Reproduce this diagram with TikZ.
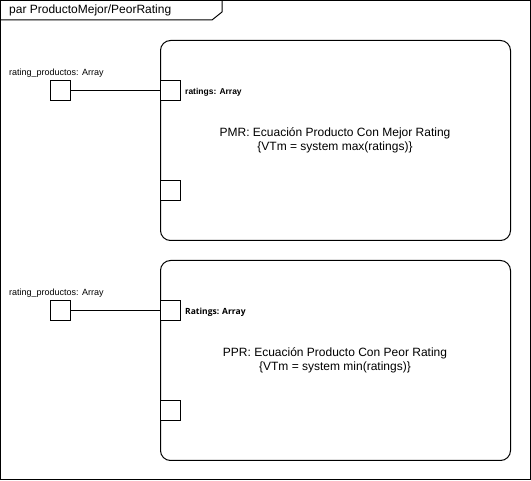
\documentclass[tikz,border=0pt]{standalone}
\usepackage{fontspec}
\setmainfont{Liberation Sans}
\newfontfamily\opensans{Open Sans}
\begin{document}
\begin{tikzpicture}[x=1pt,y=-1pt,
  frame/.style={draw=black,line width=1pt},
  blockbox/.style={draw=black,line width=1pt,rounded corners=10pt},
  portbox/.style={draw=black,line width=1pt,fill=white,minimum width=20pt,minimum height=20pt,inner sep=0pt},
  smalllabel/.style={font=\fontsize{9}{10}\selectfont,inner sep=0pt,anchor=west},
  portlabel/.style={font=\fontsize{8.5}{10}\selectfont\bfseries,inner sep=0pt,anchor=west},
  maintext/.style={font=\fontsize{12}{14}\selectfont,align=center,inner sep=0pt},
  conn/.style={draw=black,line width=1pt}]
\useasboundingbox (0,0) rectangle (531,481);
% outer frame
\draw[frame] (0.5,0.5) rectangle (530,480);
\draw[frame] (0.5,20) -- (212,20) -- (222,12) -- (222,0.5);
\node[anchor=west,inner sep=0pt,font=\fontsize{12}{14}\selectfont] (title) at (9,10.5) {par ProductoMejor/PeorRating};
% block 1
\draw[blockbox] (160.5,40.5) rectangle (510.5,240.5);
\node[portbox] (p1in) at (170.5,90.5) {};
\node[portbox] (p1out) at (170.5,190.5) {};
\node[portlabel] (l1) at (185,92) {ratings: Array};
\node[maintext] (t1) at (335,140) {PMR: Ecuación Producto Con Mejor Rating\\\{VTm = system max(ratings)\}};
\node[portbox] (s1) at (60.5,90.5) {};
\node[smalllabel] (sl1) at (9,73) {rating\_productos: Array};
\draw[conn] (s1.east) -- (p1in.west);
% block 2
\draw[blockbox] (160.5,260.5) rectangle (510.5,460.5);
\node[portbox] (p2in) at (170.5,310.5) {};
\node[portbox] (p2out) at (170.5,410.5) {};
\node[portlabel,font=\fontsize{8.5}{10}\selectfont\opensans\bfseries] (l2) at (185,312) {Ratings: Array};
\node[maintext] (t2) at (335,360) {PPR: Ecuación Producto Con Peor Rating\\\{VTm = system min(ratings)\}};
\node[portbox] (s2) at (60.5,310.5) {};
\node[smalllabel] (sl2) at (9,293) {rating\_productos: Array};
\draw[conn] (s2.east) -- (p2in.west);
\end{tikzpicture}
\end{document}
